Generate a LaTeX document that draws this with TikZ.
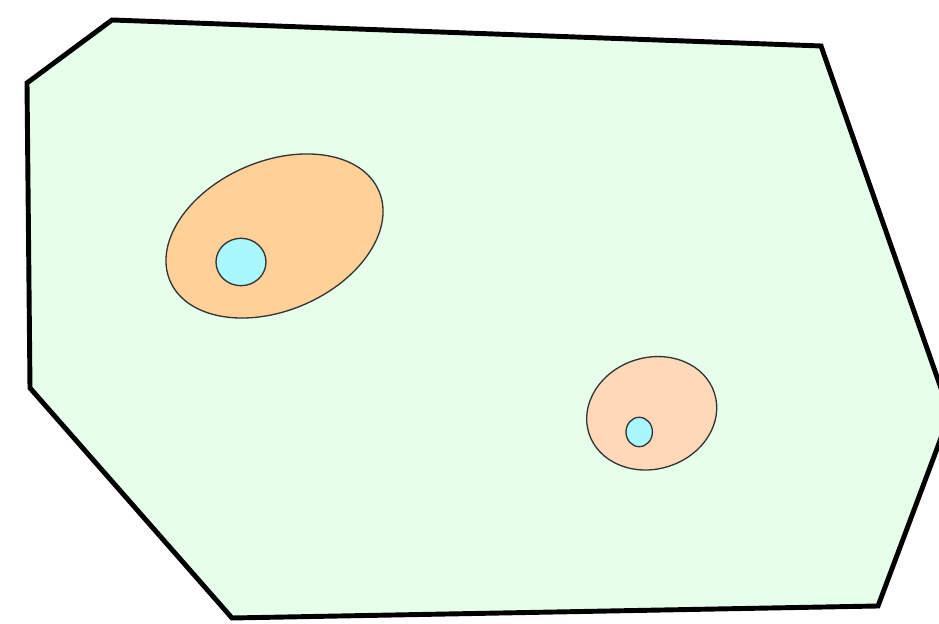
\documentclass[tikz,border=0pt]{standalone}
\usepackage{tikz}
\definecolor{regiongreen}{HTML}{E6FFEA}
\definecolor{bloborange}{HTML}{FFD199}
\definecolor{blobpeach}{HTML}{FFD8BA}
\definecolor{coreblue}{HTML}{AAF8FF}
\definecolor{rimgrey}{HTML}{333333}

\begin{document}
\begin{tikzpicture}[x=0.02cm, y=0.02cm,
        region/.style={draw=black, fill=regiongreen, line width=2.8pt, line join=miter},
        blob/.style={draw=rimgrey, line width=0.75pt},
        core/.style={draw=rimgrey, fill=coreblue, line width=0.75pt}
    ]
        \useasboundingbox (0,0) rectangle (939,624);
        \clip (0,0) rectangle (939,624);
        % outer region
        \draw [region] (112,604) -- (821,578) -- (950,210) -- (878,18) -- (232,6) -- (30,236) -- (27,541) -- cycle;
        % left blob
        \draw [blob, fill=bloborange] (274.5,388) ellipse [x radius=113.7, y radius=74.7, rotate=23.3];
        \draw [core] (241,362) ellipse [x radius=25, y radius=23.7];
        % right blob
        \draw [blob, fill=blobpeach] (651.7,210.7) ellipse [x radius=65.9, y radius=55.7, rotate=17.6];
        \draw [core] (639.2,192) ellipse [x radius=13.2, y radius=14.7];
    \end{tikzpicture}
\end{document}
